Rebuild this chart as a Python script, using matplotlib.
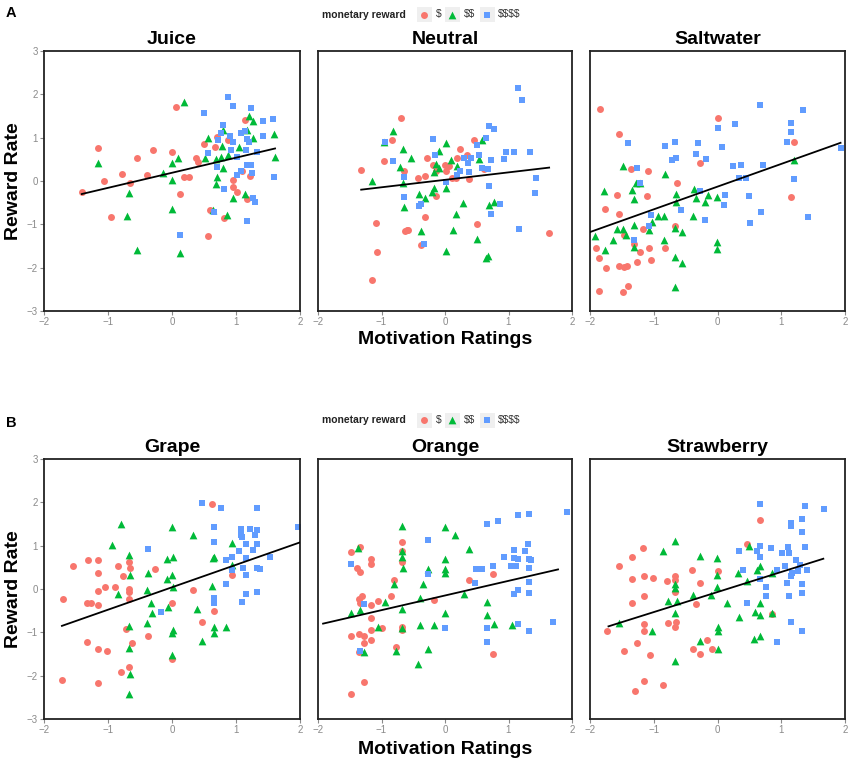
import matplotlib
matplotlib.use("Agg")
import matplotlib.pyplot as plt
import numpy as np
from matplotlib.patches import Rectangle

plt.rcParams['font.family'] = ['Liberation Sans', 'DejaVu Sans']

# ---------------- data ----------------
groups = ["$", "$$", "$$$$"]
colors = ["#F8766D", "#00BA38", "#619CFF"]
markers = ["o", "^", "s"]
sizes = [25, 31, 23]

# Juice
juice_s_x = [-1.41, -1.15, -1.07, -0.95, -0.78, -0.66, -0.54, -0.39, -0.29, 0.0, 0.07, 0.13, 0.18, 0.27, 0.37,
             0.41, 0.5, 0.57, 0.6, 0.67, 0.70, 0.81, 0.96, 0.95, 1.02, 0.88, 1.14, 1.17, 1.22, 1.09]
juice_s_y = [-0.26, 0.76, 0.0, -0.82, 0.17, -0.05, 0.52, 0.14, 0.71, 0.66, 1.70, -0.31, 0.09, 0.09, 0.52,
             0.43, 0.85, -1.28, -0.67, 0.78, 1.02, -0.85, 0.02, -0.13, -0.25, 0.95, 1.41, -0.41, 0.11, 0.24]
juice_ss_x = [-1.15, -0.67, -0.70, -0.54, -0.14, 0.0, 0.0, 0.0, 0.10, 0.12, 0.18, 0.51, 0.57, 0.64, 0.68, 0.69,
              0.70, 0.78, 0.77, 0.80, 0.86, 0.95, 0.88, 1.04, 1.14, 1.21, 1.26, 1.26, 1.17, 1.60, 1.61, 0.80]
juice_ss_y = [0.41, -0.28, -0.81, -1.59, 0.19, 0.02, 0.41, -0.65, 0.52, -1.65, 1.82, 0.52, 0.99, -0.68, 0.51, -0.08,
              0.10, 0.80, 0.56, 0.29, -0.78, -0.40, 0.60, 0.78, -0.30, 1.50, 1.39, 0.99, 1.18, 1.08, 0.56, 1.18]
juice_ssss_x = [0.13, 0.50, 0.57, 0.66, 0.70, 0.72, 0.80, 0.77, 0.82, 0.87, 0.95, 0.90, 0.95, 0.92, 1.01, 1.02, 1.08,
                1.08, 1.14, 1.17, 1.21, 1.15, 1.17, 1.23, 1.25, 1.17, 1.24, 1.26, 1.30, 1.33, 1.42, 1.42, 1.58, 1.60]
juice_ssss_y = [-1.25, 1.58, 0.64, -0.72, 0.33, 0.95, 1.30, 1.10, -0.18, 1.93, 1.72, 1.04, 0.91, 0.72, 0.55, 0.15, 0.24,
                1.11, 1.16, 0.96, 0.91, 0.72, 0.37, 0.36, 0.19, -0.93, 1.69, -0.39, -0.49, 0.68, 1.38, 1.03, 1.42, 0.10]

# Neutral
neutral_s_x = [-1.32, -1.15, -1.09, -1.07, -0.96, -0.83, -0.70, -0.65, -0.63, -0.60, -0.58, -0.43, -0.38, -0.32, -0.32,
               -0.29, -0.19, -0.14, -0.14, 0.0, 0.01, 0.07, 0.11, 0.18, 0.19, 0.24, 0.34, 0.38, 0.45, 0.50, 0.61, 1.64]
neutral_s_y = [0.26, -2.28, -0.98, -1.63, 0.47, 0.95, 1.45, 0.22, -1.16, -1.13, -1.12, 0.08, -1.47, -0.83, 0.11,
               0.52, 0.37, -0.34, 0.22, 0.36, 0.22, 0.34, 0.06, 0.07, 0.52, 0.75, 0.61, 0.05, 0.94, -0.99, 0.28, -1.20]
neutral_ss_x = [-1.15, -0.82, -0.96, -0.71, -0.66, -0.66, -0.64, -0.54, -0.41, -0.38, -0.31, -0.20, -0.18, -0.17, -0.14,
                -0.10, -0.09, 0.01, 0.01, 0.01, 0.10, 0.13, 0.18, 0.19, 0.28, 0.50, 0.53, 0.59, 0.64, 0.68, 0.70, 0.77]
neutral_ss_y = [-0.01, 1.15, 0.91, 0.32, 0.74, -0.05, -0.61, 0.53, -0.31, -1.15, -0.39, -0.25, -0.15, 0.20, 0.39,
                0.70, 0.29, 0.88, -0.17, -1.61, 0.48, -1.12, -0.75, 0.34, -0.51, -1.34, 0.51, 0.95, -1.78, -1.72, -0.55, -0.49]
neutral_ssss_x = [-0.95, -0.82, -0.65, -0.64, -0.41, -0.38, -0.33, -0.19, -0.15, 0.01, 0.19, 0.24, 0.30, 0.36, 0.41, 0.38,
                  0.50, 0.53, 0.58, 0.64, 0.68, 0.69, 0.69, 0.77, 0.72, 0.72, 0.87, 0.93, 0.96, 1.08, 1.15, 1.21, 1.16,
                  1.34, 1.42, 1.43]
neutral_ssss_y = [0.91, 0.47, 0.09, -0.36, -0.58, -0.52, -1.46, 0.98, 0.60, -0.03, 0.15, 0.24, 0.52, 0.42, 0.52, 0.21,
                  0.83, 0.61, 0.31, 0.99, 0.27, -0.12, 1.28, 1.21, 0.48, -0.77, -0.52, 0.50, 0.68, 0.68, 2.15, 1.86, -1.10,
                  0.66, -0.28, 0.08]

# Saltwater
salt_s_x = [-1.85, -1.55, -1.91, -1.86, -1.76, -1.75, -1.86, -1.57, -1.54, -1.55, -1.46, -1.42, -1.47, -1.49, -1.41, -1.35,
            -1.31, -1.26, -1.21, -1.17, -1.09, -1.10, -1.08, -1.05, -0.82, -0.67, -0.64, -0.28, 0.0, 1.20, 1.16]
salt_s_y = [1.67, 1.08, -1.54, -1.78, -0.64, -2.00, -2.54, -0.32, -0.77, -1.95, -1.98, -1.95, -1.25, -2.57, -2.43, 0.27,
            -1.45, -1.87, -1.64, -1.10, 0.22, -0.35, -1.54, -1.82, -1.54, -1.04, -0.05, 0.42, 1.46, 0.91, -0.38]
salt_ss_x = [-1.92, -1.78, -1.76, -1.64, -1.57, -1.49, -1.48, -1.43, -1.34, -1.31, -1.31, -1.31, -1.28, -1.21, -1.08, -1.02,
             -0.94, -0.84, -0.84, -0.82, -0.67, -0.66, -0.66, -0.65, -0.65, -0.55, -0.55, -0.39, -0.37, -0.34, -0.20, -0.15,
             -0.01, -0.01, -0.01, 1.20]
salt_ss_y = [-1.28, -0.24, -1.60, -1.37, -1.11, 0.35, -1.11, -1.24, -0.20, -0.41, -1.01, -1.52, -0.05, -0.05, -1.14, -0.95,
             -0.81, -0.81, -1.35, 0.16, -1.76, -2.45, -1.08, -0.29, -0.49, -1.18, -1.90, -0.81, -0.18, -0.39, -0.49, -0.32,
             -0.37, -1.40, -1.58, 0.49]
salt_ssss_x = [-1.41, -1.31, -1.27, -1.21, -1.08, -1.04, -0.82, -0.72, -0.66, -0.65, -0.58, -0.33, -0.31, -0.28, -0.20, -0.18,
               0.0, 0.07, 0.10, 0.11, 0.25, 0.27, 0.34, 0.37, 0.44, 0.50, 0.51, 0.67, 0.69, 0.72, 1.09, 1.16, 1.16, 1.20,
               1.34, 1.42, 1.93]
salt_ssss_y = [0.88, -1.37, 0.29, -0.05, -1.04, -0.79, 0.80, 0.49, 0.90, 0.52, -0.68, 0.62, 0.88, -0.22, -0.91, 0.50,
               1.22, 0.78, -0.56, -0.33, 0.34, 1.32, 0.08, 0.36, 0.08, -0.35, -0.98, 1.75, -0.72, 0.36, 0.91, 1.35, 1.12, 0.04,
               1.65, -0.84, 0.77]

# Grape
grape_s_x = [-1.72, -1.70, -1.54, -1.33, -1.33, -1.32, -1.27, -1.16, -1.15, -1.15, -1.15, -1.15, -1.15, -1.05, -1.02, -0.89,
             -0.84, -0.80, -0.76, -0.72, -0.67, -0.66, -0.67, -0.67, -0.67, -0.67, -0.63, -0.38, -0.26, 0.0, 0.0, 0.33,
             0.47, 0.63, 0.66, 0.93]
grape_s_y = [-2.10, -0.23, 0.53, -0.32, -1.22, 0.67, -0.32, -0.38, 0.67, 0.38, -0.04, -1.39, -2.18, 0.05, -1.43, 0.04,
             0.54, -1.91, 0.29, -0.92, 0.63, 0.48, 0.01, -0.08, -0.24, -1.80, -1.24, -1.08, 0.46, -0.32, -1.62, -0.02,
             -0.75, 1.96, -0.50, 0.32]
grape_ss_x = [-0.80, -0.94, -0.84, -0.67, -0.66, -0.67, -0.67, -0.65, -0.67, -0.38, -0.39, -0.39, -0.33, -0.31, -0.08, -0.08,
              -0.07, 0.0, 0.01, 0.0, 0.01, 0.01, 0.0, 0.0, 0.33, 0.39, 0.47, 0.63, 0.64, 0.66, 0.66, 0.66, 0.84, 0.93, 0.93]
grape_ss_y = [1.49, 1.02, -0.12, 0.78, 0.33, -0.85, -1.35, -1.95, -2.42, 0.38, -0.03, -0.79, -0.32, -0.55, 0.70, 0.22,
              -0.42, 1.44, 0.73, 0.33, 0.05, -0.95, -1.02, -1.52, 1.25, -0.47, -1.19, 0.07, 0.72, 0.73, -0.87, -1.02, -0.87,
              1.07, 0.56]
grape_ssss_x = [-0.38, -0.17, 0.47, 0.66, 0.66, 0.66, 0.65, 0.77, 0.84, 0.85, 0.93, 0.93, 1.05, 1.08, 1.08, 1.10, 1.10,
                1.11, 1.15, 1.16, 1.16, 1.16, 1.22, 1.26, 1.30, 1.33, 1.33, 1.33, 1.33, 1.38, 1.33, 1.53, 1.97]
grape_ssss_y = [0.93, -0.54, 1.99, 1.42, 1.09, -0.20, -0.32, 1.88, 0.66, 0.12, 0.73, 0.44, 0.88, 1.38, 1.25, 1.21, -0.31,
                0.49, -0.12, 1.04, 0.71, 0.32, 1.38, 0.89, 1.25, 1.88, 1.36, 1.03, 0.48, 0.46, -0.08, 0.73, 1.42]

# Orange
orange_s_x = [-1.48, -1.48, -1.48, -1.38, -1.34, -1.34, -1.36, -1.34, -1.35, -1.35, -1.30, -1.28, -1.28, -1.28, -1.17,
              -1.16, -1.16, -1.16, -1.16, -1.16, -1.06, -1.0, -0.85, -0.80, -0.77, -0.68, -0.68, -0.68, -0.68, -0.68,
              -0.18, 0.38, 0.76, 0.76]
orange_s_y = [-2.42, 0.86, -1.09, 0.48, 0.97, 0.40, -0.22, -0.32, -1.03, -1.45, -0.15, -2.15, -1.09, -1.25, -0.66,
              0.70, 0.58, -0.38, -0.95, -1.18, -0.28, -0.89, -0.15, 0.20, -1.34, 1.08, 0.87, 0.62, -0.88, -0.95,
              -0.25, 0.21, 0.35, -1.50]
orange_ss_x = [-1.48, -1.37, -1.34, -1.28, -1.06, -0.95, -0.81, -0.77, -0.68, -0.68, -0.68, -0.66, -0.68, -0.68, -0.42,
               -0.40, -0.39, -0.34, -0.27, -0.27, -0.18, 0.0, 0.0, 0.0, 0.0, 0.0, 0.15, 0.30, 0.38, 0.66, 0.66, 0.77, 1.05]
orange_ss_y = [-0.55, 0.95, -0.48, -1.45, -0.88, -0.30, 0.12, -1.42, 1.45, 0.87, 0.75, 0.49, -0.46, -0.89, -1.72,
               -0.82, -0.21, 0.11, 0.46, -1.39, -0.84, 1.43, 0.70, 0.47, 0.38, -0.55, 1.25, -0.12, 0.93, -0.31, -0.59,
               -0.80, -0.82]
orange_ssss_x = [-1.48, -1.34, -1.27, -0.27, -0.26, 0.0, 0.47, 0.49, 0.58, 0.66, 0.66, 0.66, 0.76, 0.84, 0.93, 1.04, 1.09,
                 1.09, 1.12, 1.09, 1.15, 1.15, 1.15, 1.15, 1.26, 1.30, 1.33, 1.33, 1.33, 1.33, 1.33, 1.33, 1.36, 1.70, 1.92]
orange_ssss_y = [0.58, -1.42, -0.34, 0.35, 1.12, -0.90, 0.15, 0.46, 0.46, 1.51, -0.90, -1.22, 0.53, 1.58, 0.75, 0.52, 0.91,
                 0.72, 0.52, -0.12, 1.70, 0.70, -0.03, -0.80, 0.88, 1.05, 1.74, 0.70, 0.48, 0.16, -0.09, -0.98, 0.68,
                 -0.75, 1.78]

# Strawberry
straw_s_x = [-1.73, -1.55, -1.47, -1.34, -1.34, -1.34, -1.30, -1.27, -1.17, -1.16, -1.16, -1.16, -1.16, -1.16, -1.06,
             -1.01, -0.85, -0.79, -0.77, -0.66, -0.66, -0.65, -0.66, -0.66, -0.40, -0.39, -0.34, -0.27, -0.27, -0.17,
             -0.08, 0.0, 0.47, 0.66, 0.86]
straw_s_y = [-0.98, 0.52, -1.42, 0.75, 0.22, -0.33, -2.35, -1.25, 0.95, 0.29, -0.15, -0.80, -0.97, -2.12, -1.53,
             0.25, -2.22, 0.19, -0.78, 0.30, 0.21, -0.77, -0.88, -0.08, 0.45, -1.38, -0.35, 0.15, -1.49, -1.18,
             -1.39, 0.42, 1.05, 1.59, -0.58]
straw_ss_x = [-1.54, -1.02, -0.85, -0.77, -0.66, -0.66, -0.66, -0.64, -0.66, -0.66, -0.39, -0.27, -0.27, -0.10, -0.01,
              -0.01, -0.01, 0.0, 0.0, 0.0, 0.15, 0.32, 0.33, 0.47, 0.49, 0.59, 0.58, 0.62, 0.67, 0.67, 0.67, 0.67, 0.85, 0.86]
straw_ss_y = [-0.78, -0.96, 0.88, -0.27, 1.10, 0.12, 0.02, -0.27, -0.56, -1.65, -0.14, 0.76, -1.20, -0.14, 0.72,
              0.32, 0.04, -0.88, -0.96, -1.39, -0.32, 0.36, -0.65, 0.18, 1.0, -0.54, -1.15, 0.45, -0.32, 0.54, -0.60,
              -1.09, 0.36, -0.55]
straw_ssss_x = [0.33, 0.40, 0.47, 0.62, 0.66, 0.67, 0.67, 0.67, 0.76, 0.76, 0.84, 0.93, 0.94, 1.01, 1.06, 1.09, 1.10,
                1.12, 1.12, 1.15, 1.15, 1.15, 1.16, 1.17, 1.23, 1.27, 1.30, 1.33, 1.33, 1.33, 1.33, 1.33, 1.37, 1.38,
                1.41, 1.67]
straw_ssss_y = [0.88, 0.44, -0.32, 0.88, 1.96, 1.0, 0.75, 0.23, 0.05, -0.16, 0.95, -1.22, 0.45, 0.82, 0.52, 0.14, 0.96,
                0.84, -0.15, 1.52, 1.45, 0.31, -0.75, 0.37, 0.68, 0.42, 0.56, 1.61, 1.31, 0.11, -0.10, -0.98, 1.92, 0.98,
                0.45, 1.85]

panel_names = ["Juice", "Neutral", "Saltwater", "Grape", "Orange", "Strawberry"]
panel_data = [
    [(juice_s_x, juice_s_y), (juice_ss_x, juice_ss_y), (juice_ssss_x, juice_ssss_y)],
    [(neutral_s_x, neutral_s_y), (neutral_ss_x, neutral_ss_y), (neutral_ssss_x, neutral_ssss_y)],
    [(salt_s_x, salt_s_y), (salt_ss_x, salt_ss_y), (salt_ssss_x, salt_ssss_y)],
    [(grape_s_x, grape_s_y), (grape_ss_x, grape_ss_y), (grape_ssss_x, grape_ssss_y)],
    [(orange_s_x, orange_s_y), (orange_ss_x, orange_ss_y), (orange_ssss_x, orange_ssss_y)],
    [(straw_s_x, straw_s_y), (straw_ss_x, straw_ss_y), (straw_ssss_x, straw_ssss_y)],
]
# regression lines: slope, intercept, x range
fit_slope = [0.348, 0.172, 0.524, 0.518, 0.338, 0.463]
fit_intercept = [0.19, 0.027, -0.13, 0.04, -0.15, -0.07]
fit_x0 = [-1.41, -1.32, -2.0, -1.72, -1.92, -1.71]
fit_x1 = [1.61, 1.64, 1.93, 1.99, 1.78, 1.66]

# ---------------- layout (pixels) ----------------
W, H = 851, 770
fig = plt.figure(figsize=(W / 100, H / 100), dpi=100)

col_lr = [(44, 300), (318, 572), (590, 845)]
row_tb = [(51, 311), (459, 719)]
tick_grey = "#8a8a8a"


def px_axes(left, top, right, bottom):
    return fig.add_axes([left / W, 1 - bottom / H, (right - left) / W, (bottom - top) / H])


def ftext(x, y, s, **kw):
    fig.text(x / W, 1 - y / H, s, parse_math=False, **kw)


for i, name in enumerate(panel_names):
    r, c = divmod(i, 3)
    l, rr = col_lr[c]
    t, b = row_tb[r]
    ax = px_axes(l, t, rr, b)
    for g in range(3):
        xs, ys = panel_data[i][g]
        ax.scatter(xs, ys, s=sizes[g], c=colors[g], marker=markers[g], linewidths=0, zorder=2)
    xl = np.array([fit_x0[i], fit_x1[i]])
    ax.plot(xl, fit_slope[i] * xl + fit_intercept[i], color="black", lw=1.3, zorder=3)
    ax.set_xlim(-2, 2)
    ax.set_ylim(-3, 3)
    ax.set_xticks([-2, -1, 0, 1, 2])
    ax.set_yticks([-3, -2, -1, 0, 1, 2, 3])
    for sp in ax.spines.values():
        sp.set_linewidth(1.3)
        sp.set_color("#222222")
    ax.tick_params(direction="out", length=3, width=0.8, color=tick_grey, labelcolor=tick_grey,
                   labelsize=7, pad=1.5)
    if c > 0:
        ax.tick_params(axis="y", left=False, labelleft=False)
    ax.set_title(name, fontsize=14, fontweight="bold", pad=5)

# overlay for labels and legends
ov = fig.add_axes([0, 0, 1, 1])
ov.set_xlim(0, W)
ov.set_ylim(H, 0)
ov.axis("off")
ov.patch.set_visible(False)

for lab, ly, legy, ylab_y, xlab_y in [("A", 13, 14.5, 181, 340), ("B", 423, 420, 589, 750)]:
    ftext(6, ly, lab, fontsize=10.5, fontweight="bold", ha="left", va="center")
    ftext(14, ylab_y, "Reward Rate", fontsize=14, fontweight="bold", rotation=90, ha="center", va="center")
    ftext(445, xlab_y, "Motivation Ratings", fontsize=14, fontweight="bold", ha="center", va="center")
    ftext(322, legy, "monetary reward", fontsize=7.5, fontweight="bold", ha="left", va="center", color="#222222")
    key_x = [424, 452, 487]
    lab_x = [436, 464, 498]
    for g in range(3):
        ov.add_patch(Rectangle((key_x[g] - 7.5, legy - 7.5), 15, 15, facecolor="#EFEFEF", edgecolor="none"))
        ov.scatter([key_x[g]], [legy], s=sizes[g], c=colors[g], marker=markers[g], linewidths=0)
        ftext(lab_x[g], legy, groups[g], fontsize=7.5, ha="left", va="center", color="#333333")

fig.savefig("out.png", dpi=100)
